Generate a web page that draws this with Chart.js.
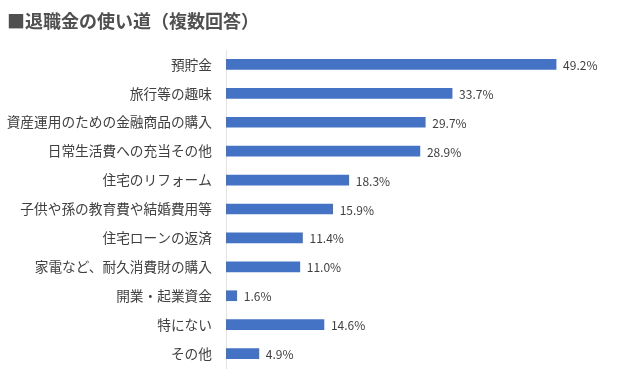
<!DOCTYPE html>
<html><head><meta charset="utf-8">
<script src="https://cdn.jsdelivr.net/npm/chart.js@4"></script>
<style>
html,body{margin:0;padding:0;background:#fff;}
#wrap{position:relative;width:640px;height:379px;}
#title{position:absolute;left:7px;top:8px;font-family:"Noto Sans CJK JP",sans-serif;font-size:18px;font-weight:bold;color:#505050;white-space:nowrap;line-height:24px;}
canvas{position:absolute;left:0;top:0;}
</style></head>
<body>
<div id="wrap">
<canvas id="c" width="640" height="379"></canvas>
<div id="title">■退職金の使い道（複数回答）</div>
</div>
<script>
const categories = ["預貯金","旅行等の趣味","資産運用のための金融商品の購入","日常生活費への充当その他","住宅のリフォーム","子供や孫の教育費や結婚費用等","住宅ローンの返済","家電など、耐久消費財の購入","開業・起業資金","特にない","その他"];
const values = [49.2,33.7,29.7,28.9,18.3,15.9,11.4,11.0,1.6,14.6,4.9];

const labelPlugin = {
  id:'barLabels',
  afterDatasetsDraw(chart){
    const ctx = chart.ctx;
    const meta = chart.getDatasetMeta(0);
    ctx.save();
    ctx.font = '12px "Noto Sans CJK JP", sans-serif';
    ctx.fillStyle = '#404040';
    ctx.textAlign = 'left';
    ctx.textBaseline = 'middle';
    meta.data.forEach((bar,i)=>{
      ctx.fillText(values[i].toFixed(1)+'%', bar.x+7, bar.y+1);
    });
    ctx.restore();
  }
};

new Chart(document.getElementById('c'),{
  type:'bar',
  data:{labels:categories,datasets:[{data:values,backgroundColor:'#4472C4',borderWidth:0,barThickness:10}]},
  options:{
    indexAxis:'y',
    responsive:false,
    animation:false,
    layout:{padding:{top:50,bottom:11,left:0,right:45}},
    plugins:{legend:{display:false},tooltip:{enabled:false}},
    scales:{
      x:{display:false,min:0,max:55},
      y:{
        afterFit(scale){scale.width=226;scale.paddingTop=0;scale.paddingBottom=0;},
        grid:{display:false,drawTicks:false},
        border:{display:true,color:'#e3e3e3',width:1},
        ticks:{padding:14,color:'#404040',font:{family:'"Noto Sans CJK JP", sans-serif',size:13.7}}
      }
    }
  },
  plugins:[labelPlugin]
});
</script>
</body></html>
